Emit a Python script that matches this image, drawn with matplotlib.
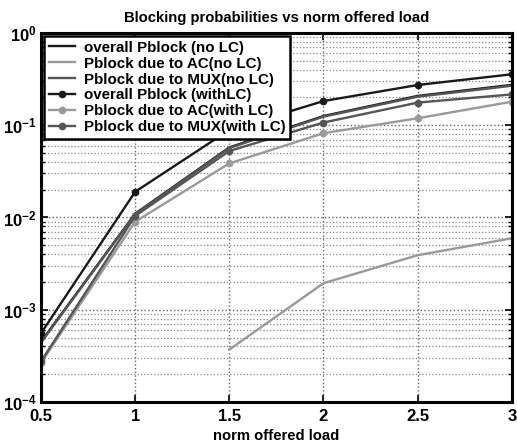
import matplotlib
matplotlib.use("Agg")
import matplotlib.pyplot as plt
from matplotlib.ticker import LogLocator, FixedLocator, NullFormatter

plt.rcParams['font.family'] = ['Liberation Sans', 'DejaVu Sans']
plt.rcParams['font.weight'] = 'bold'
plt.rcParams['mathtext.fontset'] = 'custom'
plt.rcParams['mathtext.rm'] = 'Liberation Sans:bold'
plt.rcParams['mathtext.bf'] = 'Liberation Sans:bold'
plt.rcParams['mathtext.default'] = 'bf'

# Normalised offered load
load = [0.5, 1.0, 1.5, 2.0, 2.5, 3.0]
load_ac = [1.5, 2.0, 2.5, 3.0]

# Blocking probabilities without load control
overall_nolc = [4.5e-4, 0.0110, 0.0575, 0.126, 0.208, 0.274]
ac_nolc = [3.7e-4, 1.94e-3, 3.9e-3, 5.95e-3]
mux_nolc = [4.4e-4, 0.0109, 0.0567, 0.124, 0.204, 0.268]

# Blocking probabilities with load control
overall_lc = [5.55e-4, 0.019, 0.089, 0.183, 0.273, 0.357]
ac_lc = [2.65e-4, 0.0090, 0.0386, 0.082, 0.119, 0.180]
mux_lc = [2.75e-4, 0.0104, 0.0526, 0.107, 0.176, 0.216]

labels = ['overall Pblock (no LC)', 'Pblock due to AC(no LC)', 'Pblock due to MUX(no LC)',
          'overall Pblock (withLC)', 'Pblock due to AC(with LC)', 'Pblock due to MUX(with LC)']

xtick_labels = ['0.5', '1', '1.5', '2', '2.5', '3']
ytick_labels = [r'$10^{-4}$', r'$10^{-3}$', r'$10^{-2}$', r'$10^{-1}$', r'$10^{0}$']

black = '#1a1a1a'
light = '#9a9a9a'
dark = '#555555'

fig = plt.figure(figsize=(5.17, 4.46), dpi=100)
ax = fig.add_axes([0.0793, 0.0987, 0.9107, 0.8273])

lw = 1.7
ms = 4.5
ax.plot(load, overall_nolc, color=black, lw=lw, label=labels[0])
ax.plot(load_ac, ac_nolc, color=light, lw=lw, label=labels[1])
ax.plot(load, mux_nolc, color=dark, lw=lw, label=labels[2])
ax.plot(load, overall_lc, color=black, lw=lw, marker='o', ms=ms, label=labels[3])
ax.plot(load, ac_lc, color=light, lw=lw, marker='o', ms=ms, label=labels[4])
ax.plot(load, mux_lc, color=dark, lw=lw, marker='o', ms=ms, label=labels[5])

ax.set_yscale('log')
ax.set_xlim(0.5, 3)
ax.set_ylim(1e-4, 1)
ax.xaxis.set_major_locator(FixedLocator(load))
ax.set_xticklabels(xtick_labels)
ax.yaxis.set_major_locator(FixedLocator([1e-4, 1e-3, 1e-2, 1e-1, 1]))
ax.set_yticklabels(ytick_labels)
ax.yaxis.set_minor_locator(LogLocator(base=10, subs=range(2, 10), numticks=20))
ax.yaxis.set_minor_formatter(NullFormatter())

ax.tick_params(which='both', direction='in', top=True, right=True, labelsize=12)
ax.tick_params(axis='x', pad=5)
ax.tick_params(axis='y', pad=3)
ax.tick_params(which='major', length=5, width=1.2)
ax.tick_params(which='minor', length=3, width=1.0)

ax.grid(True, which='major', linestyle=':', color='#666666', lw=1.0)
ax.grid(True, which='minor', axis='y', linestyle=':', color='#888888', lw=0.9)
ax.set_axisbelow(True)

for s in ax.spines.values():
    s.set_linewidth(2.2)
    s.set_color('black')

ax.set_title('Blocking probabilities vs norm offered load', fontsize=10.7, fontweight='bold', pad=8)
ax.set_xlabel('norm offered load', fontsize=10.7, fontweight='bold', labelpad=4)

leg = ax.legend(loc='upper left', fontsize=10.9, frameon=True, fancybox=False,
                borderaxespad=0.2, handlelength=1.75, handletextpad=0.6,
                labelspacing=0.13, borderpad=0.3)
leg.get_frame().set_edgecolor('black')
leg.get_frame().set_linewidth(1.8)
leg.get_frame().set_alpha(1.0)
for t in leg.get_texts():
    t.set_fontweight('bold')

fig.savefig('out.png', dpi=100)
